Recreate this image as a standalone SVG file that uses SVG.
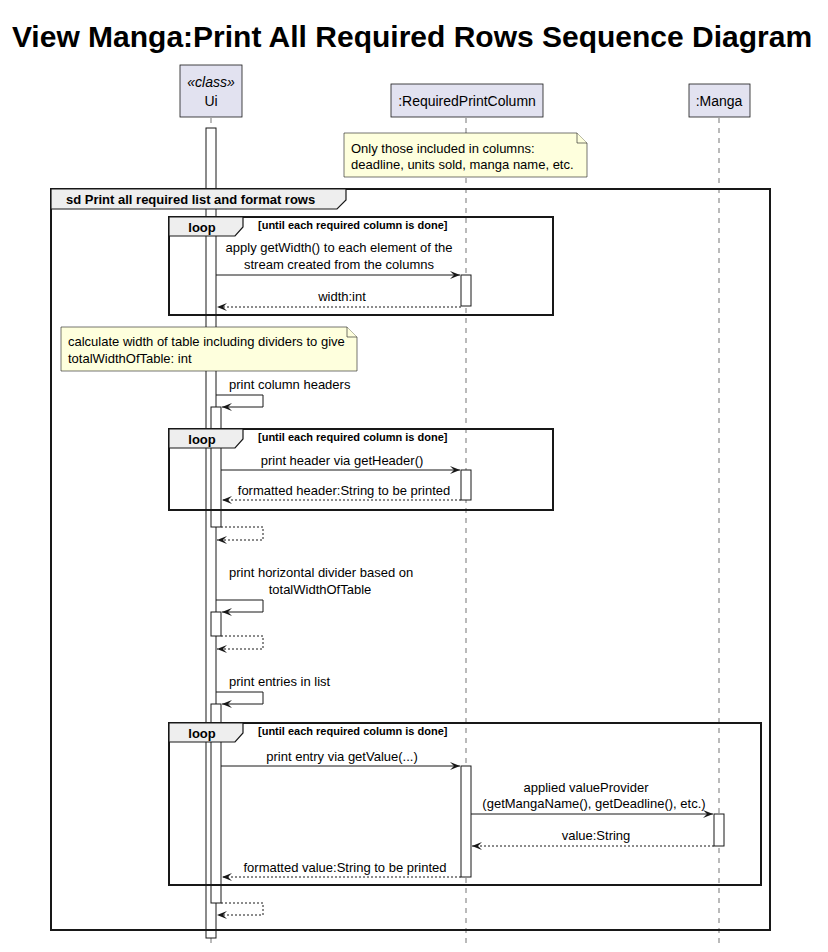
<svg xmlns="http://www.w3.org/2000/svg" width="828" height="952" viewBox="0 0 828 952">
<style>
text{font-family:"Liberation Sans",Arial,sans-serif;fill:#000}
.t{font-size:30px;font-weight:bold}
.p{font-size:14px}
.m{font-size:13px}
.b{font-size:13px;font-weight:bold}
.g{font-size:11px;font-weight:bold}
.box{fill:#E2E2F0;stroke:#181818;stroke-width:0.8}
.life{stroke:#181818;stroke-width:0.6;stroke-dasharray:5,5;fill:none}
.act{fill:#fff;stroke:#181818;stroke-width:1}
.note{fill:#FEFFDD;stroke:#181818;stroke-width:0.6}
.frame{fill:none;stroke:#181818;stroke-width:2}
.tab{fill:#EEEEEE;stroke:#181818;stroke-width:1.2}
.msg{fill:none;stroke:#181818;stroke-width:1;marker-end:url(#ah)}
.ret{fill:none;stroke:#181818;stroke-width:1;stroke-dasharray:2,2;marker-end:url(#ah)}
</style>
<defs>
<marker id="ah" viewBox="0 0 10 8" refX="10" refY="4" markerWidth="10" markerHeight="8" markerUnits="userSpaceOnUse" orient="auto">
<path d="M0,0 L10,4 L0,8 L4,4 z" fill="#181818"/>
</marker>
</defs>
<rect width="828" height="952" fill="#fff"/>
<text class="t" x="412" y="47" text-anchor="middle">View Manga:Print All Required Rows Sequence Diagram</text>

<g id="lifelines">
<line class="life" x1="211" y1="118" x2="211" y2="945"/>
<line class="life" x1="466" y1="118" x2="466" y2="945"/>
<line class="life" x1="719" y1="118" x2="719" y2="945"/>
</g>

<g id="Ui">
<rect class="box" x="180" y="65" width="62" height="52"/>
<text class="p" x="211" y="87" text-anchor="middle" font-style="italic">«class»</text>
<text class="p" x="211" y="106" text-anchor="middle">Ui</text>
</g>
<g id="RequiredPrintColumn">
<rect class="box" x="391" y="84" width="152" height="33"/>
<text class="p" x="467" y="106" text-anchor="middle">:RequiredPrintColumn</text>
</g>
<g id="Manga">
<rect class="box" x="689" y="84" width="61" height="33"/>
<text class="p" x="719" y="106" text-anchor="middle">:Manga</text>
</g>

<g id="note1">
<path class="note" d="M344,133 H577 L587,143 V177 H344 Z"/>
<path class="note" d="M577,133 V143 H587"/>
<text class="m" x="351" y="153">Only those included in columns:</text>
<text class="m" x="351" y="169">deadline, units sold, manga name, etc.</text>
</g>

<g id="activations">
<rect class="act" x="206" y="128" width="10" height="810"/>
<rect class="act" x="461" y="275" width="10" height="31"/>
<rect class="act" x="211" y="407" width="10" height="120"/>
<rect class="act" x="461" y="470" width="10" height="30"/>
<rect class="act" x="211" y="612" width="10" height="24"/>
<rect class="act" x="211" y="704" width="10" height="199"/>
<rect class="act" x="461" y="766" width="10" height="111"/>
<rect class="act" x="714" y="814" width="10" height="32"/>
</g>

<g id="sdframe">
<rect class="frame" x="51" y="189" width="719" height="741"/>
<path class="tab" d="M51,189 H346 V200 L337,209 H51 Z"/>
<text class="b" x="66" y="204">sd Print all required list and format rows</text>
</g>

<g id="loop1">
<rect class="frame" x="169" y="217" width="384" height="98"/>
<path class="tab" d="M169,217 H243 V227 L235,236 H169 Z"/>
<text class="b" x="202" y="232" text-anchor="middle">loop</text>
<text class="g" x="258" y="229">[until each required column is done]</text>
</g>

<g id="note2">
<path class="note" d="M61,327 H347 L357,337 V371 H61 Z"/>
<path class="note" d="M347,327 V337 H357"/>
<text class="m" x="68" y="346">calculate width of table including dividers to give</text>
<text class="m" x="68" y="363">totalWidthOfTable: int</text>
</g>

<g id="loop2">
<rect class="frame" x="169" y="429" width="384" height="81"/>
<path class="tab" d="M169,429 H243 V439 L235,448 H169 Z"/>
<text class="b" x="202" y="444" text-anchor="middle">loop</text>
<text class="g" x="258" y="441">[until each required column is done]</text>
</g>

<g id="loop3">
<rect class="frame" x="169" y="723" width="592" height="162"/>
<path class="tab" d="M169,723 H243 V733 L235,742 H169 Z"/>
<text class="b" x="202" y="738" text-anchor="middle">loop</text>
<text class="g" x="258" y="735">[until each required column is done]</text>
</g>

<g id="connectors">
<line class="msg" x1="216" y1="275" x2="460" y2="275"/>
<text class="m" x="339" y="252" text-anchor="middle">apply getWidth() to each element of the</text>
<text class="m" x="339" y="269" text-anchor="middle">stream created from the columns</text>
<line class="ret" x1="461" y1="307" x2="217" y2="307"/>
<text class="m" x="342" y="301" text-anchor="middle">width:int</text>

<polyline class="msg" points="216,395 263,395 263,407 222,407"/>
<text class="m" x="229" y="389">print column headers</text>

<line class="msg" x1="221" y1="470" x2="460" y2="470"/>
<text class="m" x="342" y="465" text-anchor="middle">print header via getHeader()</text>
<line class="ret" x1="461" y1="500" x2="222" y2="500"/>
<text class="m" x="344" y="495" text-anchor="middle">formatted header:String to be printed</text>

<polyline class="ret" points="221,527 263,527 263,540 217,540"/>

<text class="m" x="229" y="577">print horizontal divider based on</text>
<text class="m" x="320" y="594" text-anchor="middle">totalWidthOfTable</text>
<polyline class="msg" points="216,600 263,600 263,612 222,612"/>
<polyline class="ret" points="221,636 263,636 263,649 217,649"/>

<text class="m" x="229" y="686">print entries in list</text>
<polyline class="msg" points="216,692 263,692 263,704 222,704"/>

<line class="msg" x1="221" y1="766" x2="460" y2="766"/>
<text class="m" x="342" y="761" text-anchor="middle">print entry via getValue(...)</text>
<line class="msg" x1="471" y1="814" x2="713" y2="814"/>
<text class="m" x="586" y="792" text-anchor="middle">applied valueProvider</text>
<text class="m" x="594" y="808" text-anchor="middle">(getMangaName(), getDeadline(), etc.)</text>
<line class="ret" x1="714" y1="846" x2="472" y2="846"/>
<text class="m" x="596" y="840" text-anchor="middle">value:String</text>
<line class="ret" x1="461" y1="877" x2="222" y2="877"/>
<text class="m" x="345" y="872" text-anchor="middle">formatted value:String to be printed</text>

<polyline class="ret" points="221,903 263,903 263,915 217,915"/>
</g>
</svg>
